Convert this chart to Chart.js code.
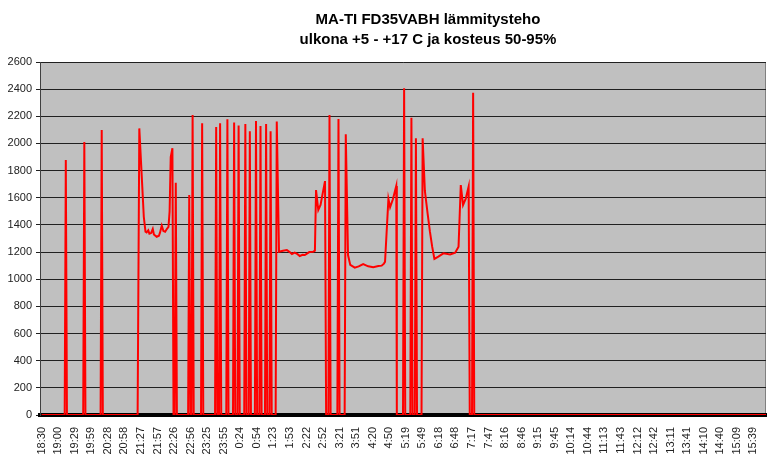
<!DOCTYPE html>
<html>
<head>
<meta charset="utf-8">
<script src="https://cdn.jsdelivr.net/npm/chart.js@4"></script>
<style>
  body { margin: 0; background: #fff; }
  canvas { display: block; }
</style>
</head>
<body>
<canvas id="power-chart" width="775" height="474"></canvas>
<script>
// minutes after 18:30 and the heating power read at that moment
const sampleMinutes = [
    0, 41, 43, 45, 74, 76, 78, 105, 107, 109,
    171, 174, 179, 182, 185, 187, 190, 192, 195, 198, 200, 205, 209, 211, 214, 217, 220, 223, 226, 228, 230, 233, 235,
    237, 239, 241, 261, 263, 265, 267, 269, 271, 284, 286, 288,
    309, 311, 313, 316, 318, 320, 329, 331, 333, 341, 343, 345, 349, 351, 353,
    361, 363, 365, 369, 371, 373, 380, 382, 384, 388, 390, 392, 398, 400, 402, 406, 408, 410,
    417, 419, 423, 430, 437, 442, 446, 451, 456, 460, 465, 469, 477, 484, 487, 489, 493, 497, 505, 507,
    511, 513, 515, 527, 529, 531,
    540, 542, 546, 550, 558, 565, 573, 582, 591, 600, 606, 610, 612, 618, 621, 626, 632, 633,
    644, 646, 648, 657, 659, 661, 665, 667, 669,
    677, 679, 683, 688, 692, 696, 700, 707, 716, 728, 737, 743, 747, 751, 756, 761, 763,
    767, 769, 771, 1291
];
const heatPower = [
    0, 0, 1878, 0, 0, 2010, 0, 0, 2100, 0,
    0, 2111, 1706, 1460, 1350, 1345, 1360, 1335, 1340, 1370, 1330, 1313, 1320, 1345, 1395, 1355, 1350, 1370, 1385, 1500, 1900, 1965, 0,
    0, 1711, 0, 0, 1620, 0, 0, 2210, 0, 0, 2148, 0,
    0, 2122, 0, 0, 2148, 0, 0, 2178, 0, 0, 2155, 0, 0, 2133, 0,
    0, 2143, 0, 0, 2090, 0, 0, 2165, 0, 0, 2128, 0, 0, 2143, 0, 0, 2090, 0,
    0, 2162, 1203, 1210, 1215, 1200, 1186, 1196, 1185, 1171, 1180, 1178, 1200, 1203, 1210, 1657, 1510, 1547, 1723, 0,
    0, 2210, 0, 0, 2180, 0,
    0, 2067, 1178, 1105, 1085, 1095, 1112, 1095, 1088, 1098, 1100, 1115, 1129, 1591, 1530, 1589, 1687, 0,
    0, 2406, 0, 0, 2190, 0, 0, 2038, 0,
    0, 2038, 1650, 1480, 1350, 1240, 1150, 1166, 1191, 1183, 1196, 1240, 1694, 1547, 1596, 1682, 0,
    0, 2374, 0, 0
];
const timeLabels = [
    '18:30', '19:00', '19:29', '19:59', '20:28', '20:58', '21:27', '21:57', '22:26', '22:56', '23:25',
    '23:55', '0:24', '0:54', '1:23', '1:53', '2:22', '2:52', '3:21', '3:51', '4:20', '4:50', '5:19',
    '5:49', '6:18', '6:48', '7:17', '7:47', '8:16', '8:46', '9:15', '9:45', '10:14', '10:44', '11:13',
    '11:43', '12:12', '12:42', '13:11', '13:41', '14:10', '14:40', '15:09', '15:39'
];
const labelStep = 29.5; // minutes between two time labels
const titleLines = ['MA-TI FD35VABH lämmitysteho', 'ulkona +5 - +17 C ja kosteus 50-95%'];

Chart.defaults.font.family = '"Liberation Sans", Arial, sans-serif';
Chart.defaults.color = '#222';

const plotBackground = {
    id: 'plotBackground',
    beforeDraw(chart) {
        const a = chart.chartArea;
        const ctx = chart.ctx;
        ctx.save();
        ctx.fillStyle = '#c0c0c0';
        ctx.fillRect(a.left, a.top, a.right - a.left, a.bottom - a.top);
        ctx.strokeStyle = '#808080';
        ctx.lineWidth = 1;
        ctx.strokeRect(a.left + 0.5, a.top + 0.5, a.right - a.left - 1, a.bottom - a.top);
        ctx.restore();
    },
    afterDraw(chart) {
        const ctx = chart.ctx;
        ctx.save();
        ctx.fillStyle = '#000';
        ctx.font = 'bold 15px "Liberation Sans", Arial, sans-serif';
        ctx.textAlign = 'center';
        ctx.textBaseline = 'middle';
        ctx.fillText(titleLines[0], 428, 20);
        ctx.fillText(titleLines[1], 428, 40);
        ctx.restore();
    }
};

const ctx = document.getElementById('power-chart').getContext('2d');
const powerChart = new Chart(ctx, {
    type: 'line',
    data: {
        datasets: [{
            data: sampleMinutes.map((m, i) => ({ x: m, y: heatPower[i] })),
            borderColor: '#ff0000',
            borderWidth: 2,
            pointRadius: 0,
            tension: 0,
            fill: false
        }]
    },
    options: {
        responsive: false,
        animation: false,
        layout: { padding: { top: 62, right: 9, left: 0, bottom: 0 } },
        plugins: {
            legend: { display: false },
            tooltip: { enabled: false },
            title: { display: false }
        },
        scales: {
            x: {
                type: 'linear',
                min: -3,
                max: 1291,
                afterFit: (scale) => { scale.height = 59; },
                afterBuildTicks: (scale) => {
                    scale.ticks = timeLabels.map((t, i) => ({ value: i * labelStep }));
                },
                ticks: {
                    autoSkip: false,
                    minRotation: 90,
                    maxRotation: 90,
                    font: { size: 11 },
                    color: '#222',
                    padding: 4,
                    callback: (value, index) => timeLabels[index]
                },
                grid: { display: false },
                border: { display: true, color: '#000', width: 4 }
            },
            y: {
                min: 0,
                max: 2600,
                afterFit: (scale) => { scale.width = 40; },
                ticks: {
                    stepSize: 200,
                    font: { size: 11 },
                    color: '#222',
                    padding: 4,
                    callback: (value) => String(value)
                },
                grid: { color: '#202020', lineWidth: 1, tickLength: 4 },
                border: { display: true, color: '#404040', width: 1 }
            }
        }
    },
    plugins: [plotBackground]
});
</script>
</body>
</html>
